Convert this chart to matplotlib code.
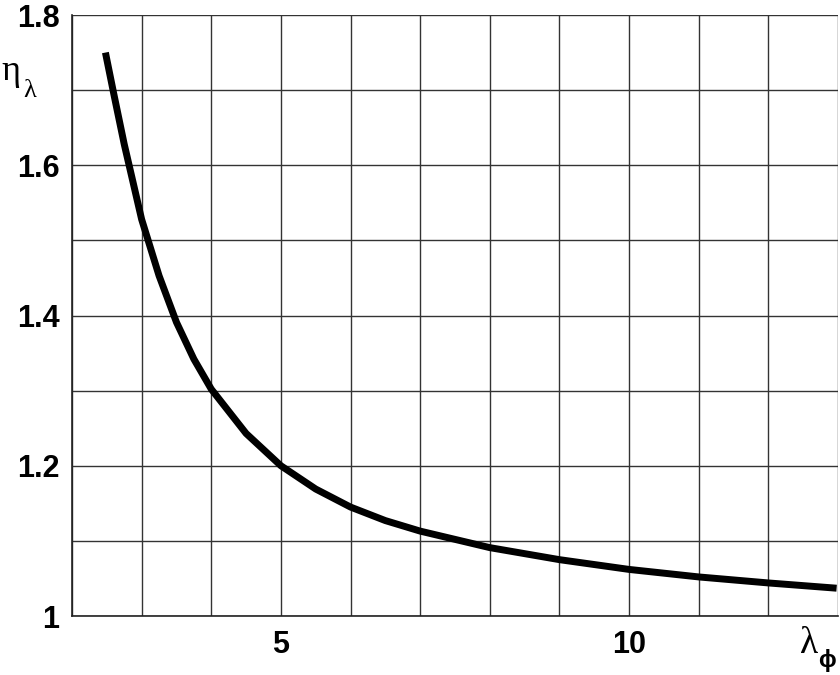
import matplotlib.pyplot as plt
import numpy as np

# values
lam = [2.48, 2.6, 2.75, 3.0, 3.25, 3.5, 3.75, 4.0, 4.5, 5.0, 5.5, 6.0,
       6.5, 7.0, 8.0, 9.0, 10.0, 11.0, 12.0, 12.98]
eta = [1.75, 1.695, 1.628, 1.528, 1.453, 1.391, 1.342, 1.302, 1.243, 1.200,
       1.169, 1.145, 1.127, 1.113, 1.091, 1.075, 1.062, 1.052, 1.044, 1.037]

x_labels = [5, 10]
y_labels = [1.0, 1.2, 1.4, 1.6, 1.8]

fig = plt.figure(figsize=(8.4, 6.75), dpi=100)
ax = fig.add_axes([72/840, 59/675, 766/840, 601/675])

ax.set_xlim(2, 13)
ax.set_ylim(1.0, 1.8)

# grid every 1 on x and every 0.1 on y
ax.set_xticks(np.arange(2, 14, 1), minor=True)
ax.set_yticks(np.arange(1.0, 1.81, 0.1), minor=True)
ax.set_xticks(x_labels)
ax.set_xticklabels([str(v) for v in x_labels])
ax.set_yticks(y_labels)
ax.set_yticklabels(['1', '1.2', '1.4', '1.6', '1.8'])
ax.grid(True, which='both', color='#333333', linewidth=1.0)
ax.set_axisbelow(True)

ax.tick_params(which='both', length=0)
ax.tick_params(axis='y', pad=9)
ax.tick_params(axis='x', pad=10)
for t in ax.get_xticklabels() + ax.get_yticklabels():
    t.set_fontfamily('Liberation Sans')
    t.set_fontweight('bold')
    t.set_fontsize(22)

for s in ['top', 'right']:
    ax.spines[s].set_visible(False)
for s in ['left', 'bottom']:
    ax.spines[s].set_color('#222222')
    ax.spines[s].set_linewidth(1.2)

ax.plot(lam, eta, color='black', linewidth=5, solid_capstyle='butt',
        solid_joinstyle='round', clip_on=False)

# axis labels
fig.text(1/840, 1 - 72/675, 'η', fontfamily='Liberation Serif', fontsize=26,
         va='center', ha='left')
fig.text(23/840, 1 - 91/675, 'λ', fontfamily='Liberation Serif', fontsize=19,
         va='center', ha='left')
fig.text(800/840, 1 - 644/675, 'λ', fontfamily='Liberation Serif', fontsize=27,
         va='center', ha='left')
fig.text(818/840, 1 - 660/675, 'ϕ', family=['Liberation Sans', 'DejaVu Sans'],
         fontweight='bold', fontsize=17, va='center', ha='left')

fig.savefig('out.png', dpi=100)
